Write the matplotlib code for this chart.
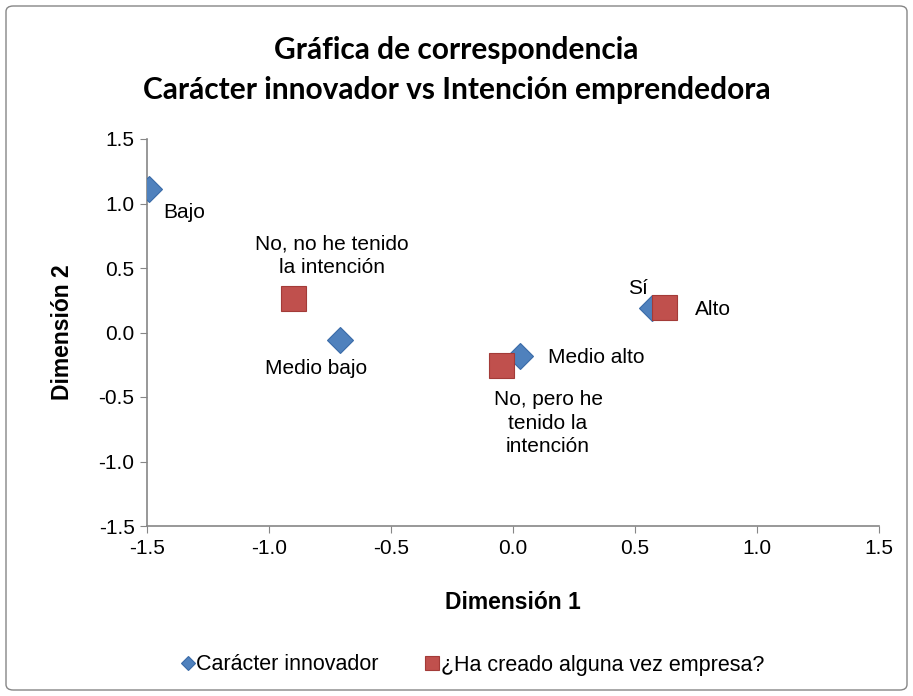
import matplotlib.pyplot as plt
from matplotlib.patches import FancyBboxPatch

# Carácter innovador (blue diamonds)
innov_labels = ['Bajo', 'Medio bajo', 'Medio alto', 'Alto']
innov_x = [-1.49, -0.71, 0.03, 0.57]
innov_y = [1.11, -0.06, -0.18, 0.19]

# ¿Ha creado alguna vez empresa? (red squares)
empresa_labels = ['No, no he tenido\nla intención', 'No, pero he\ntenido la\nintención', 'Sí']
empresa_x = [-0.90, -0.05, 0.62]
empresa_y = [0.27, -0.25, 0.20]

# label offsets in points (ha, dx, dy)
innov_off = [('center', 25, -17), ('center', -17, -20), ('left', 20, -1), ('left', 31, -1)]
empresa_off = [('center', 28, 30), ('center', 34, -42), ('center', -19, 13)]

plt.rcParams['font.family'] = ['Liberation Sans', 'DejaVu Sans']

fig = plt.figure(figsize=(9.13, 6.96), dpi=100)
ax = fig.add_axes([147/913, 1-526/696, (879-147)/913, (526-139)/696])

ax.plot(innov_x, innov_y, 'D', color='#4F81BD', markersize=13, markeredgecolor='#3A6BA8',
        markeredgewidth=0.8, label='Carácter innovador', zorder=3)
ax.plot(empresa_x, empresa_y, 's', color='#C0504D', markersize=18, markeredgecolor='#A33B38',
        markeredgewidth=0.8, label='¿Ha creado alguna vez empresa?', zorder=4)

for lab, x, y, (ha, dx, dy) in zip(innov_labels, innov_x, innov_y, innov_off):
    ax.annotate(lab, (x, y), xytext=(dx, dy), textcoords='offset points',
                ha=ha, va='center', fontsize=15)
for lab, x, y, (ha, dx, dy) in zip(empresa_labels, empresa_x, empresa_y, empresa_off):
    ax.annotate(lab, (x, y), xytext=(dx, dy), textcoords='offset points',
                ha=ha, va='center', fontsize=15, multialignment='center', linespacing=1.28)

ax.set_xlim(-1.5, 1.5)
ax.set_ylim(-1.5, 1.5)
ax.set_xticks([-1.5, -1.0, -0.5, 0.0, 0.5, 1.0, 1.5])
ax.set_yticks([-1.5, -1.0, -0.5, 0.0, 0.5, 1.0, 1.5])
ax.set_xticklabels(['%.1f' % v for v in ax.get_xticks()])
ax.set_yticklabels(['%.1f' % v for v in ax.get_yticks()])
ax.tick_params(labelsize=15, direction='out', length=5, color='#868686', pad=4)
for s in ['top', 'right']:
    ax.spines[s].set_visible(False)
for s in ['left', 'bottom']:
    ax.spines[s].set_color('#868686')
    ax.spines[s].set_linewidth(1.2)

ax.set_xlabel('Dimensión 1', fontsize=16.5, fontweight='bold', labelpad=24)
ax.set_ylabel('Dimensión 2', fontsize=16.5, fontweight='bold', labelpad=18)

fig.text(0.5, 1-70/696, 'Gráfica de correspondencia\nCarácter innovador vs Intención emprendedora',
         ha='center', va='center', fontsize=21.5, fontweight='bold', family=['Lato', 'DejaVu Sans'],
         linespacing=1.55)

fig.legend(loc='center', bbox_to_anchor=(0.519, 1-665/696), ncol=2, frameon=False, fontsize=15.5,
           handlelength=0.4, handletextpad=0.2, columnspacing=2.3, markerscale=0.55)

fig.patches.append(FancyBboxPatch((6/913, 6/696), 901/913, 684/696, boxstyle='round,pad=0,rounding_size=0.008',
                                  transform=fig.transFigure, fill=False, edgecolor='#868686', linewidth=1))

fig.savefig('out.png', dpi=100)
